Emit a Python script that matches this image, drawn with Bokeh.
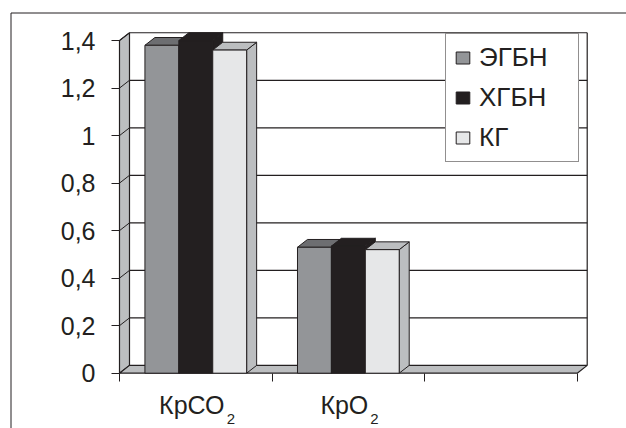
from bokeh.plotting import figure
from bokeh.models import Range1d, FixedTicker, Legend, LegendItem, LinearAxis
from bokeh.embed import file_html
from bokeh.resources import INLINE
from bokeh.core.properties import value

# ---- data -------------------------------------------------------------
categories = ["КрСО₂", "КрО₂", ""]
series_names = ["ЭГБН", "ХГБН", "КГ"]
egbn = [1.38, 0.53]
hgbn = [1.40, 0.535]
kg = [1.36, 0.52]
y_ticks = [0, 0.2, 0.4, 0.6, 0.8, 1.0, 1.2, 1.4]
y_tick_labels = ["0", "0,2", "0,4", "0,6", "0,8", "1", "1,2", "1,4"]

series_values = [egbn, hgbn, kg]

# ---- style ------------------------------------------------------------
W, H = 626, 428
FONT = "Liberation Sans"
INK = "#231f20"
WALL = "#bcbec0"
front_colors = ["#939598", "#231f20", "#e6e7e8"]
top_colors = ["#6d6e71", "#231f20", "#bcbec0"]
side_colors = ["#58595b", "#231f20", "#bcbec0"]

# pixel layout of the pseudo-3D box
FL, FT = 9, 11              # frame left / top border
X0, Y0 = 119.0, 372.7       # pixel position of the data origin (front corner)
XU, YU = 152.57, 237.6      # pixels per category slot / per value unit
DX, DY = 10.0 / XU, 7.8 / YU  # depth offset, data units
YMAX = y_ticks[-1]
NSLOT = len(categories)
GAP = 1.5                   # gap between clusters, in bar widths
BW = 1.0 / (len(series_names) + GAP)


def px_x(px):
    return (px - X0) / XU


def px_y(py):
    return (Y0 - py) / YU


p = figure(width=W, height=H,
           x_range=Range1d(px_x(FL), px_x(W)),
           y_range=Range1d(px_y(H), px_y(FT)),
           output_backend="svg", toolbar_location=None,
           x_axis_type=None, y_axis_type=None,
           min_border_left=FL, min_border_top=FT,
           min_border_right=0, min_border_bottom=0)
p.xgrid.visible = False
p.ygrid.visible = False
p.outline_line_color = None
p.background_fill_color = "white"
p.border_fill_color = "white"

# outer chart-area border (left and top edges)
p.segment(x0=[px_x(10.5), px_x(10.5)], y0=[px_y(H + 5), px_y(12.5)],
          x1=[px_x(10.5), px_x(W + 5)], y1=[px_y(12.5), px_y(12.5)],
          line_color=INK, line_width=1)

# back wall gridlines and right edge
grid_t = [t for t in y_ticks if t > 0]
p.segment(x0=[DX] * len(grid_t), y0=[t + DY for t in grid_t],
          x1=[NSLOT + DX] * len(grid_t), y1=[t + DY for t in grid_t],
          line_color=INK, line_width=1.2)
p.segment(x0=[NSLOT + DX], y0=[DY], x1=[NSLOT + DX], y1=[YMAX + DY],
          line_color=INK, line_width=1.2)

# left wall with its slanted gridline ends
p.patch(x=[0, 0, DX, DX], y=[0, YMAX, YMAX + DY, DY],
        fill_color=WALL, line_color=INK, line_width=1.2)
p.segment(x0=[0] * len(grid_t), y0=grid_t,
          x1=[DX] * len(grid_t), y1=[t + DY for t in grid_t],
          line_color=INK, line_width=1)

# floor
p.patch(x=[0, DX, NSLOT + DX, NSLOT], y=[0, DY, DY, 0],
        fill_color=WALL, line_color=INK, line_width=1.2)

# bars: each series drawn left to right so later bars hide earlier sides
front_renderers = []
for s, vals in enumerate(series_values):
    lefts = [i + GAP * BW / 2 + s * BW for i in range(len(vals))]
    rights = [l + BW for l in lefts]
    side_xs = [[r, r, r + DX, r + DX] for r in rights]
    side_ys = [[0, v, v + DY, DY] for v in vals]
    p.patches(xs=side_xs, ys=side_ys, fill_color=side_colors[s],
              line_color=INK, line_width=1)
    top_xs = [[l, r, r + DX, l + DX] for l, r in zip(lefts, rights)]
    top_ys = [[v, v, v + DY, v + DY] for v in vals]
    p.patches(xs=top_xs, ys=top_ys, fill_color=top_colors[s],
              line_color=INK, line_width=1)
    fr = p.quad(left=lefts, right=rights, bottom=[0] * len(vals), top=vals,
                fill_color=front_colors[s], line_color=INK, line_width=1)
    front_renderers.append(fr)

# value axis on the front edge of the left wall
yaxis = LinearAxis(fixed_location=0,
                   ticker=FixedTicker(ticks=y_ticks),
                   major_label_overrides={t: l for t, l in zip(y_ticks, y_tick_labels)},
                   axis_line_color=None,
                   major_tick_out=8, major_tick_in=0,
                   minor_tick_out=0, minor_tick_in=0,
                   major_tick_line_color=INK, major_tick_line_width=1,
                   major_label_text_font=FONT,
                   major_label_text_font_size="25px",
                   major_label_text_color=INK,
                   major_label_standoff=16)
p.add_layout(yaxis, "left")

# category axis: slot boundary ticks on the front edge of the floor
slot_ticks = list(range(NSLOT + 1))
xaxis = LinearAxis(fixed_location=0,
                   ticker=FixedTicker(ticks=slot_ticks),
                   major_label_overrides={t: "" for t in slot_ticks},
                   axis_line_color=None,
                   major_tick_out=8, major_tick_in=0,
                   minor_tick_out=0, minor_tick_in=0,
                   major_tick_line_color=INK, major_tick_line_width=1)
p.add_layout(xaxis, "below")

# category names with subscript digits
char_em = {"К": 0.584, "р": 0.556, "С": 0.722, "О": 0.778}
MAIN_PX, SUB_PX = 25, 15
mains, subs, main_x, sub_x = [], [], [], []
for i, name in enumerate(categories):
    if not name:
        continue
    main = name.rstrip("₂")
    sub = "2" if name.endswith("₂") else ""
    cx = i + 0.5 - 4.0 / XU
    half = sum(char_em.get(c, 0.6) for c in main) * MAIN_PX / 2
    mains.append(main)
    main_x.append(cx)
    subs.append(sub)
    sub_x.append(cx + (half + 2.0) / XU)
p.text(x=main_x, y=[px_y(404.5)] * len(mains), text=mains,
       text_align="center", text_baseline="middle",
       text_font=value(FONT), text_font_size=f"{MAIN_PX}px", text_color=INK)
p.text(x=sub_x, y=[px_y(418.5)] * len(subs), text=subs,
       text_align="left", text_baseline="middle",
       text_font=value(FONT), text_font_size=f"{SUB_PX}px", text_color=INK)

legend = Legend(items=[LegendItem(label=n, renderers=[r])
                       for n, r in zip(series_names, front_renderers)],
                location=(445 - FL, H - 162),
                orientation="vertical",
                border_line_color=INK, border_line_width=1,
                background_fill_color="white", background_fill_alpha=1,
                label_text_font=FONT, label_text_font_size="26px",
                label_text_color=INK,
                glyph_width=17, glyph_height=15, label_standoff=8,
                padding=8, spacing=9, label_height=29, label_width=91,
                margin=0)
p.add_layout(legend)

open("out.html", "w").write(file_html(p, INLINE))
